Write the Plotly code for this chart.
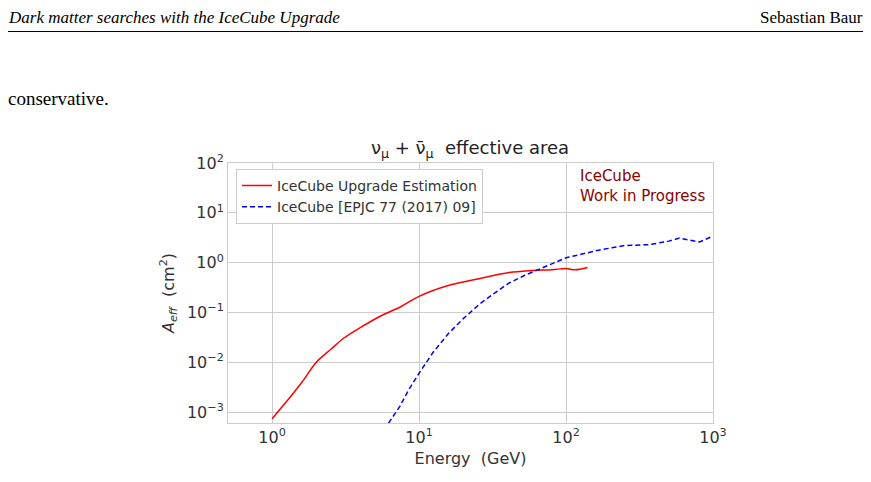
import plotly.graph_objects as go

upgrade_E = [1.0, 1.15, 1.33, 1.6, 2.0, 2.5, 3.1, 4.0, 5.4, 7.5, 10, 16, 26, 41, 57, 80, 100, 115, 140]
upgrade_A = [7.3e-4, 1.2e-3, 2e-3, 4e-3, 1e-2, 0.018, 0.031, 0.05, 0.083, 0.13, 0.21, 0.35, 0.48, 0.63, 0.69, 0.72, 0.76, 0.72, 0.8]

ic_E = [6.2, 7.4, 8.5, 10, 12.5, 16, 20, 26, 33, 41, 52, 67, 100, 170, 250, 370, 500, 590, 810, 1000]
ic_A = [6e-4, 1.3e-3, 2.8e-3, 6e-3, 0.016, 0.039, 0.075, 0.15, 0.25, 0.39, 0.55, 0.76, 1.25, 1.8, 2.2, 2.3, 2.7, 3.1, 2.6, 3.4]

xticks = [1, 10, 100, 1000]
xticklabels = ["10<sup>0</sup>", "10<sup>1</sup>", "10<sup>2</sup>", "10<sup>3</sup>"]
yticks = [1e-3, 1e-2, 1e-1, 1, 10, 100]
yticklabels = ["10<sup>−3</sup>", "10<sup>−2</sup>", "10<sup>−1</sup>", "10<sup>0</sup>", "10<sup>1</sup>", "10<sup>2</sup>"]

OX, OY = 8, 7  # page offsets
W, H = 871 - 2 * OX, 482 - 2 * OY
L, R, T, B = 228 - OX, 713 - OX, 162 - OY, 427 - OY


def px(x):
    return (x - OX - L) / (R - L)


def py(y):
    return (B - (y - OY)) / (B - T)


fig = go.Figure()
fig.add_trace(go.Scatter(x=upgrade_E, y=upgrade_A, mode="lines", name="IceCube Upgrade Estimation",
                         line=dict(color="red", width=1.5, shape="spline")))
fig.add_trace(go.Scatter(x=ic_E, y=ic_A, mode="lines", name="IceCube [EPJC 77 (2017) 09]",
                         line=dict(color="blue", width=1.5, dash="5px,3px")))

axis_common = dict(showgrid=True, gridcolor="#cccccc", showline=True, linecolor="#cccccc", mirror=True,
                   ticks="", tickfont=dict(size=16, color="#333"), zeroline=False)
fig.update_xaxes(type="log", range=[-0.3, 3], tickvals=xticks, ticktext=xticklabels,
                 title=dict(text="Energy  (GeV)", font=dict(size=16, color="#333"), standoff=6), **axis_common)
fig.update_yaxes(type="log", range=[-3.22, 2], tickvals=yticks, ticktext=yticklabels,
                 title=dict(text="<i>A<sub>eff</sub></i>  (cm<sup>2</sup>)", font=dict(size=16, color="#333"), standoff=8),
                 **axis_common)

fig.update_layout(
    width=W, height=H,
    margin=dict(l=L, r=W - R, t=T, b=H - B),
    paper_bgcolor="white", plot_bgcolor="white",
    font=dict(family="DejaVu Sans", color="#333"),
    title=dict(text="ν<sub>μ</sub> + ν̄<sub>μ</sub>  effective area", x=(470 - OX) / W,
               xanchor="center", y=1 - (147 - OY) / H, yanchor="middle", font=dict(size=18, color="#222")),
    legend=dict(x=px(236), y=py(168), xanchor="left", yanchor="top", bgcolor="white",
                bordercolor="#cccccc", borderwidth=1, font=dict(size=14, color="#333")),
    showlegend=True,
)

fig.add_annotation(x=px(578), y=py(164), xref="paper", yref="paper", xanchor="left", yanchor="top",
                   text="IceCube<br>Work in Progress", showarrow=False, align="left",
                   font=dict(size=15, color="#8b0000"))

# page text around the figure
serif = dict(family="Liberation Serif", color="black")
fig.add_annotation(x=px(6), y=py(14), xref="paper", yref="paper", xanchor="left", yanchor="middle",
                   text="<i>Dark matter searches with the IceCube Upgrade</i>", showarrow=False,
                   font=dict(size=17, **serif))
fig.add_annotation(x=px(865), y=py(14), xref="paper", yref="paper", xanchor="right", yanchor="middle",
                   text="Sebastian Baur", showarrow=False, font=dict(size=17, **serif))
fig.add_annotation(x=px(6), y=py(96), xref="paper", yref="paper", xanchor="left", yanchor="middle",
                   text="conservative.", showarrow=False, font=dict(size=19, **serif))
fig.add_shape(type="line", xref="paper", yref="paper", x0=px(8), x1=px(863), y0=py(28), y1=py(28),
              line=dict(color="black", width=1))

fig.write_html("out.html")
